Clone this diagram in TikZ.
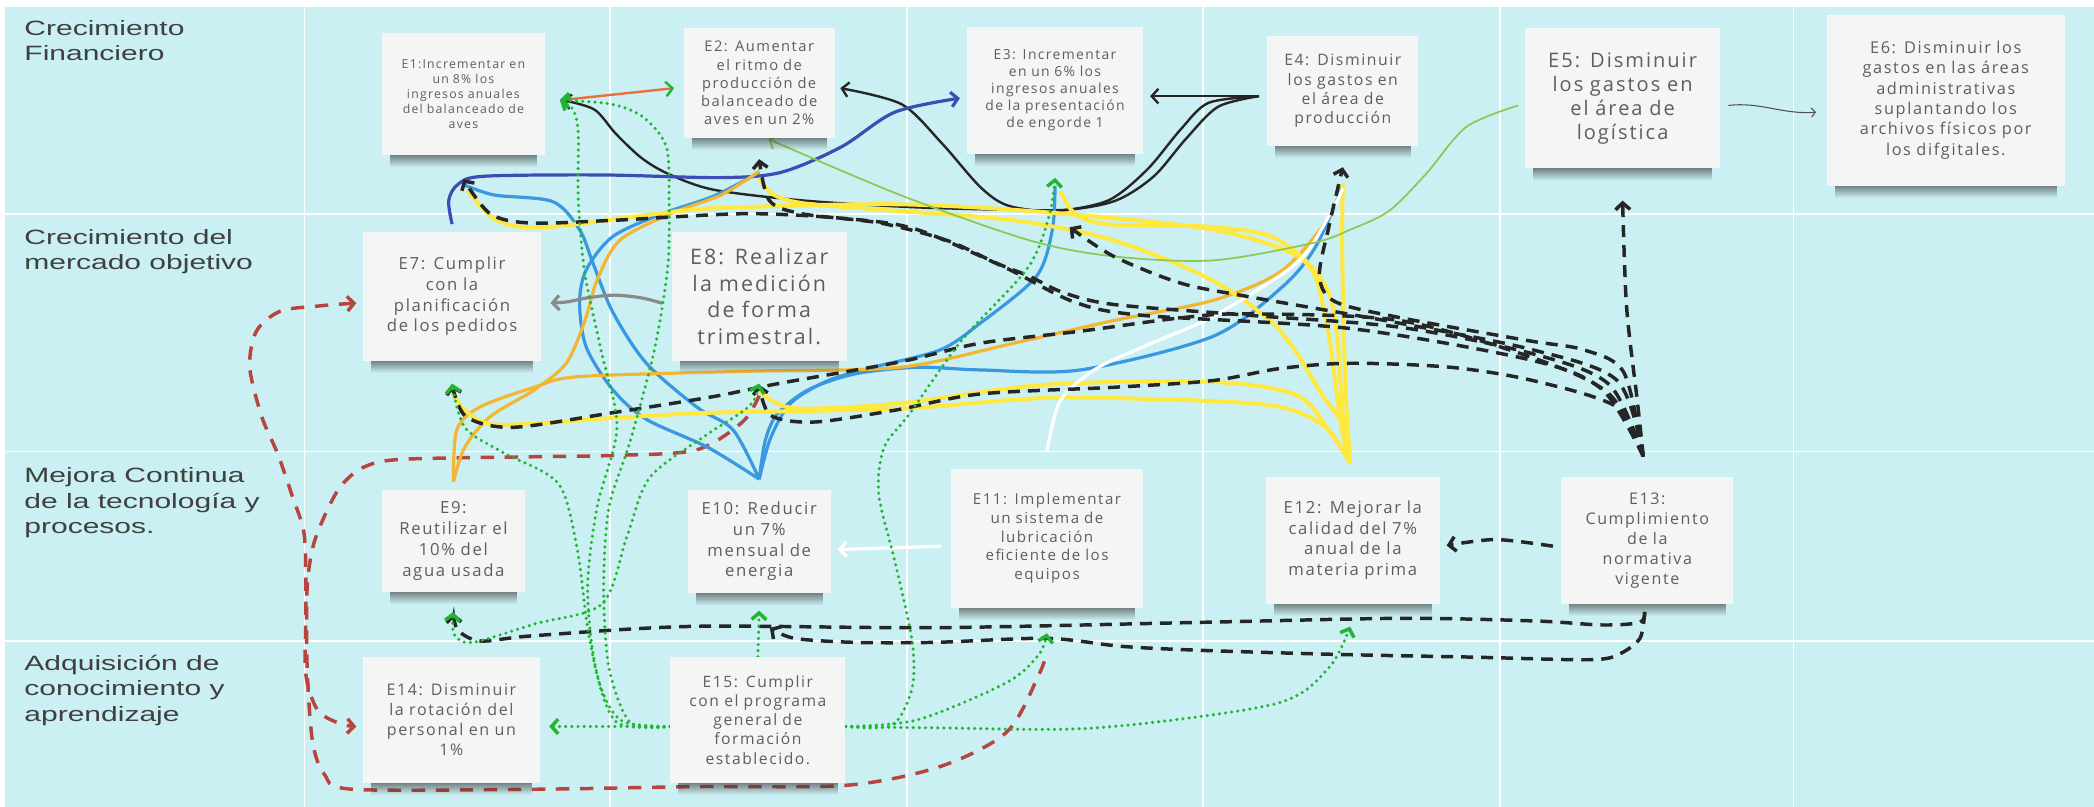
\documentclass[tikz,border=0pt]{standalone}
\usepackage{fontspec}
\setmainfont{Liberation Sans}
\newfontfamily\notefont[LetterSpace=10]{Open Sans}
\usetikzlibrary{arrows.meta}
\usetikzlibrary{fadings}
\definecolor{cBg}{HTML}{CBF0F3}
\definecolor{cNote}{HTML}{F4F5F5}
\definecolor{cNoteTxt}{HTML}{5E5E5E}
\definecolor{cLab}{HTML}{404040}
\definecolor{cYel}{HTML}{FFE83F}
\definecolor{cGold}{HTML}{F2B632}
\definecolor{cLBlue}{HTML}{3A98E0}
\definecolor{cDBlue}{HTML}{3D4DB6}
\definecolor{cBlk}{HTML}{262626}
\definecolor{cLGreen}{HTML}{8DC852}
\definecolor{cDot}{HTML}{22B532}
\definecolor{cRed}{HTML}{B8443F}
\definecolor{cGrey}{HTML}{8A8A8A}
\definecolor{cOrange}{HTML}{E8703A}
\tikzfading[name=shadowfade, top color=transparent!0, bottom color=transparent!100]
\pgfdeclarelayer{bg}
\pgfdeclarelayer{lines}
\pgfdeclarelayer{shade}
\pgfsetlayers{bg,lines,shade,main}

\begin{document}
\begin{tikzpicture}[x=1pt,y=-1pt,
  >={Straight Barb[length=5pt,width=11pt]},
  rowlab/.style={anchor=north west,inner sep=0pt,align=left,text=cLab,xscale=1.45,font=\fontsize{15.5}{19}\selectfont},
  note/.style 2 args={fill=cNote,inner sep=0pt,align=center,text=cNoteTxt,text width=#1pt,minimum height=#2pt},
  blkline/.style={draw=cBlk,line width=1.8pt},
  blkdash/.style={draw=cBlk,line width=2.6pt,dash pattern=on 9pt off 6pt},
  redash/.style={draw=cRed,line width=2.6pt,dash pattern=on 10pt off 8pt},
  gdot/.style={draw=cDot,line width=2.6pt,line cap=round,dash pattern=on 0pt off 4.6pt},
  yelline/.style={draw=cYel,line width=3pt},
  goldline/.style={draw=cGold,line width=2.4pt},
  lblueline/.style={draw=cLBlue,line width=2.4pt},
  dblueline/.style={draw=cDBlue,line width=2.4pt},
  whiteline/.style={draw=white,line width=2.4pt},
  lgreenline/.style={draw=cLGreen,line width=1.3pt},
  greyline/.style={draw=cGrey,line width=2.4pt},
  thingrey/.style={draw=cBlk!80,line width=.8pt,-{Straight Barb[length=3pt,width=7pt]}},
  orangeline/.style={draw=cOrange,line width=1.8pt}]

\useasboundingbox (0,0) rectangle (1568,604);
\begin{pgfonlayer}{bg}
  \fill[white] (0,0) rectangle (1568,604);
  \fill[cBg] (4,5) rectangle (1568,604);
  \foreach \gx in {228,457,679,901,1123,1343}
    \draw[white,line width=1.3pt] (\gx,5) -- (\gx,604);
  \foreach \gy in {160,338,480}
    \draw[white,line width=1.3pt] (4,\gy) -- (1568,\gy);
\end{pgfonlayer}

\node[rowlab] (lfin) at (18,15) {Crecimiento\\Financiero};
\node[rowlab] (lmer) at (18,171.5) {Crecimiento del\\mercado objetivo};
\node[rowlab] (lmej) at (18,350) {Mejora Continua\\de la tecnología y\\procesos.};
\node[rowlab] (ladq) at (18,490.5) {Adquisición de\\conocimiento y\\aprendizaje};

\node[note={122}{91},font=\notefont\fontsize{9.2}{11.3}\selectfont] (e1) at (347,70.5)
  {E1:Incrementar en\\un 8\% los\\ingresos anuales\\del balanceado de\\aves};
\node[note={113}{82},font=\notefont\fontsize{11}{13.5}\selectfont] (e2) at (568.5,62)
  {E2: Aumentar\\el ritmo de\\producción de\\balanceado de\\aves en un 2\%};
\node[note={132}{95},font=\notefont\fontsize{10.4}{12.7}\selectfont] (e3) at (790,67.5)
  {E3: Incrementar\\en un 6\% los\\ingresos anuales\\de la presentación\\de engorde 1};
\node[note={113}{82},font=\notefont\fontsize{11.8}{14.5}\selectfont] (e4) at (1005.5,68)
  {E4: Disminuir\\los gastos en\\el área de\\producción};
\node[note={146}{105},font=\notefont\fontsize{15}{18}\selectfont] (e5) at (1215,73.5)
  {E5: Disminuir\\los gastos en\\el área de\\logística};
\node[note={178}{128},font=\notefont\fontsize{12.2}{15.2}\selectfont] (e6) at (1457,75)
  {E6: Disminuir los\\gastos en las áreas\\administrativas\\suplantando los\\archivos físicos por\\los difgitales.};
\node[note={133}{96},font=\notefont\fontsize{12.5}{15.5}\selectfont] (e7) at (338.5,222)
  {E7: Cumplir\\con la\\planificación\\de los pedidos};
\node[note={131}{96},font=\notefont\fontsize{16}{20}\selectfont] (e8) at (568.5,222)
  {E8: Realizar\\la medición\\de forma\\trimestral.};
\node[note={107}{76},font=\notefont\fontsize{12.5}{15.7}\selectfont] (e9) at (339.5,405)
  {E9:\\Reutilizar el\\10\% del\\agua usada};
\node[note={107}{77},font=\notefont\fontsize{12.5}{15.5}\selectfont] (e10) at (568.5,405.5)
  {E10: Reducir\\un 7\%\\mensual de\\energia};
\node[note={144}{104},font=\notefont\fontsize{11.3}{14}\selectfont] (e11) at (784,403)
  {E11: Implementar\\un sistema de\\lubricación\\eficiente de los\\equipos};
\node[note={130}{95},font=\notefont\fontsize{12.5}{15.5}\selectfont] (e12) at (1013,404.5)
  {E12: Mejorar la\\calidad del 7\%\\anual de la\\materia prima};
\node[note={129}{95},font=\notefont\fontsize{12}{15}\selectfont] (e13) at (1233.5,404.5)
  {E13:\\Cumplimiento\\de la\\normativa\\vigente};
\node[note={132}{94},font=\notefont\fontsize{12}{15}\selectfont] (e14) at (338,539)
  {E14: Disminuir\\la rotación del\\personal en un\\1\%};
\node[note={131}{94},font=\notefont\fontsize{11.7}{14.4}\selectfont] (e15) at (567.5,539)
  {E15: Cumplir\\con el programa\\general de\\formación\\establecido.};

\begin{pgfonlayer}{shade}
  \foreach \n in {e1,e2,e3,e4,e5,e6,e7,e8,e9,e10,e11,e12,e13,e14,e15}
    \fill[black!80,opacity=.7,path fading=shadowfade]
      ([xshift=6pt,yshift=2pt]\n.south west) rectangle ([xshift=-6pt,yshift=-9pt]\n.south east);
\end{pgfonlayer}

\coordinate (d13) at ([xshift=-3pt,yshift=15pt]e13.north);
\coordinate (d13b) at ([xshift=-2pt,yshift=-6pt]e13.south);
\coordinate (y12) at ([xshift=-2pt,yshift=10pt]e12.north);
\coordinate (b10) at ([yshift=8pt]e10.north);
\coordinate (g9) at ([yshift=6pt]e9.north);

\begin{pgfonlayer}{lines}
\draw[redash,<->] plot[smooth] coordinates {([xshift=-5pt,yshift=-5pt]e7.west) (240,229) (210,233) (192,248) (187,275)
  (196,312) (208,340) (219,372) (228,402) (229,460) (229,505) (238,532) (255,542) ([xshift=-5pt,yshift=-5pt]e14.west)};
\draw[redash] plot[smooth] coordinates {([yshift=-26pt]e8.south) (556,316) (521,337) (460,341) (400,342) (300,344)
  (272,350) (256,363) (246,380) (235,407) (230,440) (230,500) (234,555) (243,580) (264,591) (400,591) (521,589)
  (634,588) (704,574) (754,548) (778,505) ([yshift=-33pt]e11.south)};

\draw[blkline,->] ([xshift=-6pt,yshift=-4pt]e4.west) -- ([xshift=5pt,yshift=-4.5pt]e3.east);
\draw[blkline,->] plot[smooth] coordinates {([xshift=-6pt,yshift=-4pt]e4.west) (905,77) (884,97) (859,127) (830,150)
  (790,158) (755,154) (734,140) (705,107) (675,78) ([xshift=4pt,yshift=-4pt]e2.east)};
\draw[blkline,->] plot[smooth] coordinates {([xshift=-6pt,yshift=-4pt]e4.west) (912,80) (888,104) (864,132) (836,150)
  (800,157) (750,157) (680,155) (600,150) (534,142) (500,130) (480,118) (461,100) (445,82) ([xshift=13pt,yshift=-4.5pt]e1.east)};

\draw[dblueline,->] plot[smooth] coordinates {([yshift=6pt]e7.north) (336,150) (343,138) (362,132) (450,131) (540,133)
  (585,129) (630,110) (670,84) ([xshift=-5pt,yshift=-6pt]e3.west)};

\draw[lblueline] plot[smooth] coordinates {(b10) (549,322) (522,305) (484,272) (459,234) (444,197) (434,172) (414,151)
  (370,146) ([yshift=-22pt]e1.south)};
\draw[lblueline] plot[smooth] coordinates {(b10) (530,335) (484,314) (459,292) (439,260) (434,227) (439,202) (459,177)
  (496,160) (534,147) ([yshift=-26pt]e2.south)};
\draw[lblueline] plot[smooth] coordinates {(b10) (577,328) (592,302) (620,285) (654,275) (704,262) (734,242) (776,207)
  (788,172) ([yshift=-24pt]e3.south)};
\draw[lblueline] plot[smooth] coordinates {(b10) (573,330) (582,310) (605,292) (640,280) (687,275) (734,277) (809,277)
  (908,252) (960,215) (985,185) ([yshift=-30pt]e4.south)};

\draw[goldline] plot[smooth] coordinates {(g9) (348,335) (367,312) (400,292) (424,272) (438,240) (447,210) (464,180)
  (502,160) (540,146) ([yshift=-25pt]e2.south)};
\draw[goldline] plot[smooth] coordinates {(g9) (342,322) (359,305) (400,290) (434,282) (560,278) (674,275) (759,257)
  (834,240) (908,225) (958,204) (990,170) ([yshift=-32pt]e4.south)};

\draw[yelline] plot[smooth] coordinates {(y12) (1008,300) (1006,240) (1005,180) ([yshift=-28pt]e4.south)};
\draw[yelline] plot[smooth] coordinates {(y12) (1006,317) (996,222) (958,180) (908,170) (830,168) (805,160)
  ([xshift=4pt,yshift=-28pt]e3.south)};
\draw[yelline] plot[smooth] coordinates {(y12) (1005,317) (991,297) (958,247) (908,210) (834,180) (759,165) (659,157)
  (600,152) (578,145) ([yshift=-30pt]e2.south)};
\draw[yelline] plot[smooth] coordinates {(y12) (1004,317) (993,240) (976,195) (908,172) (784,159) (674,153) (559,155)
  (509,158) (409,170) (372,165) ([xshift=3pt,yshift=-26pt]e1.south)};
\draw[yelline] plot[smooth] coordinates {(y12) (997,325) (971,296) (908,286) (784,288) (674,302) (600,306) (578,300)
  ([yshift=-22pt]e8.south)};
\draw[yelline] plot[smooth] coordinates {(y12) (993,320) (960,305) (900,300) (784,298) (674,306) (534,309) (459,313)
  (372,318) (347,306) ([yshift=-22pt]e7.south)};

\draw[whiteline] plot[smooth] coordinates {([yshift=13pt]e11.north) (794,300) (821,276) (860,258) (908,237) (971,197)
  (996,160) ([yshift=-32pt]e4.south)};
\draw[whiteline,->] ([xshift=-7pt,yshift=-6pt]e11.west) -- ([xshift=5pt,yshift=-6pt]e10.east);

\draw[lgreenline,->] plot[smooth] coordinates {([xshift=-5pt,yshift=-5.5pt]e5.west) (1098,95) (1068,130) (1040,158)
  (1011,172) (983,182) (908,195) (834,192) (771,180) (674,146) ([xshift=7pt,yshift=-1pt]e2.south)};
\draw[greyline,->] plot[smooth] coordinates {([xshift=-7pt,yshift=-5pt]e8.west) (480,223) (460,221) (440,223) (425,226)
  ([xshift=7pt,yshift=-5pt]e7.east)};
\draw[thingrey] ([xshift=6pt,yshift=-5.5pt]e5.east) .. controls (1318,76) and (1335,86) .. ([xshift=-8pt,yshift=-9pt]e6.west);

\draw[blkdash,->] plot[smooth] coordinates {(d13) (1226,300) (1218,230) ([yshift=-24pt]e5.south)};
\draw[blkdash,->] plot[smooth] coordinates {([xshift=-6pt,yshift=-4.5pt]e13.west) (1120,404) ([xshift=5pt,yshift=-4pt]e12.east)};
\draw[blkdash,->] plot[smooth] coordinates {(d13) (1216,279) (1186,262) (1144,255) (1049,238) (1000,226) (988,207)
  (995,170) ([yshift=-16pt]e4.south)};
\draw[blkdash,->] plot[smooth] coordinates {(d13) (1211,285) (1148,262) (1048,242) (934,222) (884,212) (834,192)
  ([xshift=11pt,yshift=-55pt]e3.south)};
\draw[blkdash,->] plot[smooth] coordinates {(d13) (1205,288) (1148,265) (1048,245) (934,236) (834,228) (796,219)
  (771,207) (746,197) (709,180) (659,167) (600,160) (576,150) ([yshift=-16pt]e2.south)};
\draw[blkdash,->] plot[smooth] coordinates {(d13) (1200,292) (1148,270) (1011,246) (854,236) (804,226) (754,201)
  (687,172) (637,164) (559,160) (459,165) (397,167) (367,160) ([yshift=-18pt]e1.south)};
\draw[blkdash,->] plot[smooth] coordinates {(d13) (1205,295) (1148,268) (1048,240) (934,235) (884,238) (809,248)
  (734,257) (674,271) (584,287) (534,297) (459,309) (384,320) (349,312) ([yshift=-18pt]e7.south)};
\draw[blkdash,->] plot[smooth] coordinates {(d13) (1211,305) (1148,285) (1086,275) (1011,272) (958,276) (908,285)
  (834,290) (734,295) (671,307) (610,316) (577,311) ([yshift=-18pt]e8.south)};
\draw[blkdash,->] plot[smooth] coordinates {(d13b) (1228,466) (1200,468) (1150,465) (1050,463) (900,466) (700,470)
  (520,469) (400,476) (360,480) (343,472) ([yshift=-16pt]e9.south)};
\draw[blkdash,->] plot[smooth] coordinates {(d13b) (1228,478) (1212,490) (1190,494) (1100,492) (1000,490) (900,487)
  (840,484) (784,478) (700,481) (640,481) (595,478) ([xshift=8pt,yshift=-26pt]e10.south)};

\draw[orangeline,-{Straight Barb[length=5pt,width=11pt,color=cDot]}] ([xshift=12pt,yshift=-4.5pt]e1.east)
  -- ([xshift=-7pt,yshift=-4pt]e2.west);
\draw[gdot,->] ([yshift=-5pt]e15.west) -- ([xshift=7pt,yshift=-5pt]e14.east);
\draw[gdot,->] plot[smooth] coordinates {([yshift=-5pt]e15.east) (687,539) (754,511) (778,490) ([yshift=-19pt]e11.south)};
\draw[gdot,->] plot[smooth] coordinates {([yshift=-5pt]e15.east) (700,545) (821,545) (955,527) (995,500)
  ([xshift=-2pt,yshift=-17pt]e12.south)};
\draw[gdot,->] (e15.north) -- ([yshift=-13pt]e10.south);
\draw[gdot,->] plot[smooth] coordinates {([yshift=-5pt]e15.east) (668,543) (683,515) (683,480) (670,420) (658,370)
  (662,335) (681,310) (720,255) (770,200) (786,160) ([yshift=-18pt]e3.south)};
\draw[gdot,->] plot[smooth] coordinates {([yshift=-5pt]e15.west) (466,540) (450,515) (440,470) (432,410) (418,362)
  (377,339) (348,320) ([yshift=-17pt]e7.south)};
\draw[gdot,->] plot[smooth] coordinates {([yshift=-5pt]e15.west) (462,541) (446,500) (440,440) (447,380) (462,320)
  (450,262) (438,205) (433,150) (433,100) (429,82) ([xshift=11pt,yshift=-4.5pt]e1.east)};
\draw[gdot,->] plot[smooth] coordinates {([yshift=-5pt]e15.west) (472,541) (456,500) (452,440) (456,380) (472,330)
  (490,262) (500,200) (501,150) (499,110) (482,88) (458,78) ([xshift=11pt,yshift=-4.5pt]e1.east)};
\draw[gdot,<->] plot[smooth] coordinates {([yshift=-17pt]e8.south) (560,305) (530,325) (487,357) (470,400) (451,452)
  (401,467) (354,481) (340,475) ([yshift=-15pt]e9.south)};
\end{pgfonlayer}
\end{tikzpicture}
\end{document}
